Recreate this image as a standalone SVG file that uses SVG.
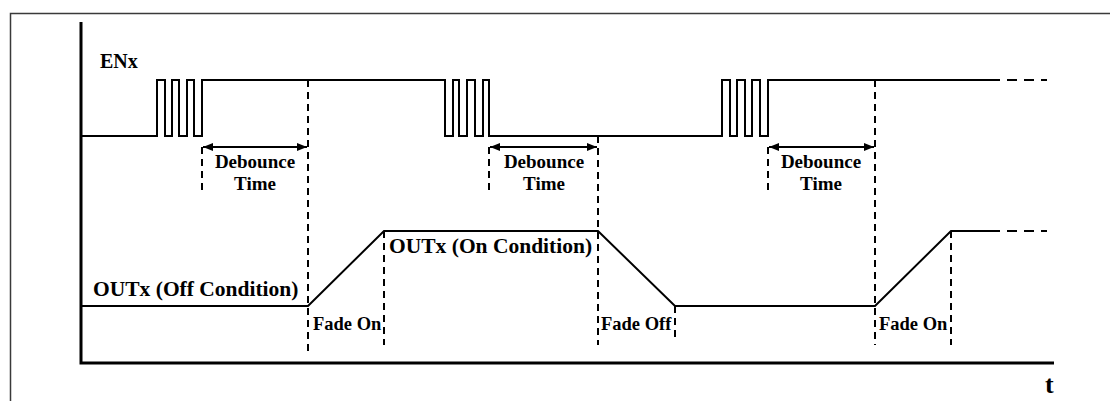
<svg xmlns="http://www.w3.org/2000/svg" width="1110" height="401" viewBox="0 0 1110 401">
<defs>
<style>
.frame{fill:none;stroke:#3a3a3a;stroke-width:1.5}
.axis{fill:none;stroke:#000;stroke-width:3}
.wave{fill:none;stroke:#000;stroke-width:2}
.wdash{fill:none;stroke:#000;stroke-width:2;stroke-dasharray:10 7}
.guide{fill:none;stroke:#000;stroke-width:2;stroke-dasharray:7 5}
.arrow{fill:none;stroke:#000;stroke-width:2;marker-start:url(#ah);marker-end:url(#ah)}
text{font-family:"Liberation Serif","Times New Roman",serif;font-weight:bold;fill:#000}
.lbl{font-size:20px}
.out{font-size:21.5px}
.deb{font-size:19px;text-anchor:middle}
.fade{font-size:18.5px}
.t{font-size:26px}
</style>
<marker id="ah" viewBox="0 0 10 8" refX="10" refY="4" markerWidth="10" markerHeight="8" markerUnits="userSpaceOnUse" orient="auto-start-reverse">
<path d="M0,0 L10,4 L0,8 Z" fill="#000"/>
</marker>
</defs>
<path class="frame" d="M10.5,401 V13.5 H1110"/>
<g id="axes">
<path class="axis" d="M81,22 V363 H1054"/>
<text class="t" x="1045" y="393">t</text>
</g>
<g id="enx">
<path class="wave" d="M81,136 H157 V80 H165 V136 H172 V80 H179 V136 H187 V80 H194 V136 H202 V80 H445 V136 H453 V80 H459 V136 H467 V80 H475 V136 H483 V80 H489 V136 H722 V80 H730 V136 H737 V80 H745 V136 H752 V80 H760 V136 H768 V80 H990"/>
<path class="wdash" d="M990,80 H1047"/>
<text class="lbl" x="100" y="68">ENx</text>
</g>
<g id="outx">
<path class="wave" d="M81,306 H308 L384,231 H598 L675,306 H875 L951,231 H990"/>
<path class="wdash" d="M990,231 H1047"/>
<text class="out" x="93" y="296">OUTx (Off Condition)</text>
<text class="out" x="389" y="253">OUTx (On Condition)</text>
</g>
<g id="connectors">
<path class="guide" d="M308,80 V353 M202,147 V193 M384,231 V345 M489,147 V193 M598,136 V345 M675,306 V341 M768,147 V193 M875,80 V345 M951,231 V345"/>
<path class="arrow" d="M203,147 H307"/>
<path class="arrow" d="M490,147 H597"/>
<path class="arrow" d="M769,147 H874"/>
</g>
<g id="debounce1">
<text class="deb" x="255" y="168">Debounce</text>
<text class="deb" x="255" y="190">Time</text>
</g>
<g id="debounce2">
<text class="deb" x="544" y="168">Debounce</text>
<text class="deb" x="544" y="190">Time</text>
</g>
<g id="debounce3">
<text class="deb" x="821" y="168">Debounce</text>
<text class="deb" x="821" y="190">Time</text>
</g>
<g id="fade1"><text class="fade" x="313" y="330">Fade On</text></g>
<g id="fade2"><text class="fade" x="601" y="330">Fade Off</text></g>
<g id="fade3"><text class="fade" x="879" y="330">Fade On</text></g>
</svg>
